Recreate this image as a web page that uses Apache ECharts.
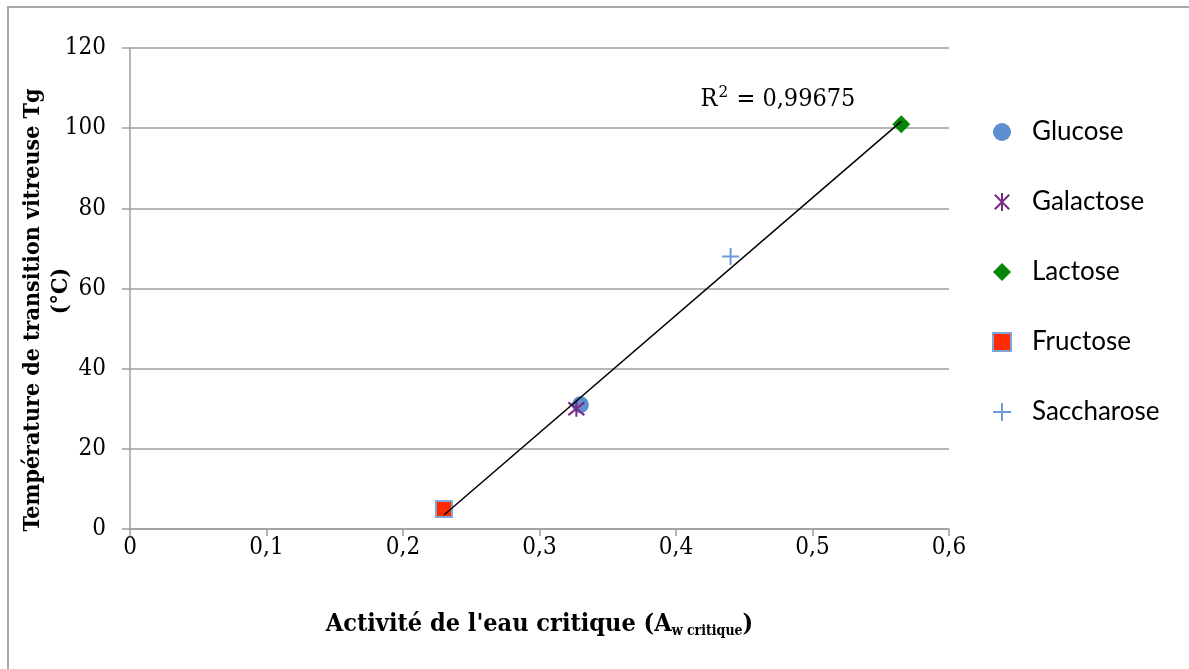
<!DOCTYPE html>
<html>
<head>
<meta charset="utf-8">
<script src="https://cdn.jsdelivr.net/npm/echarts@6/dist/echarts.min.js"></script>
<style>
  html, body { margin: 0; padding: 0; background: #fff; }
  #chart { width: 1189px; height: 669px; }
</style>
</head>
<body>
<div id="chart"></div>
<script>
// Critical water activity vs. glass transition temperature per sugar
const sugars = ['Glucose', 'Galactose', 'Lactose', 'Fructose', 'Saccharose'];
const awCritique = [0.330, 0.327, 0.565, 0.230, 0.440];
const tgValues = [31, 30, 101, 5, 68];

// Linear trend line end points
const trendAw = [0.23, 0.565];
const trendTg = [3.5, 101.7];

const xTicks = ['0', '0,1', '0,2', '0,3', '0,4', '0,5', '0,6'];
const r2Value = '0,99675';

const serif = '"DejaVu Serif Condensed", "DejaVu Serif", "Liberation Serif", serif';
const sans = 'Lato, "Open Sans", sans-serif';

const asteriskPath = 'path://M-1,-1 L1,1 M-1,1 L1,-1 M0,-1.25 L0,1.25';
const plusPath = 'path://M0,-1 L0,1 M-1,0 L1,0';

const markerStyles = [
  { symbol: 'circle', symbolSize: 17, itemStyle: { color: '#5b8fcf', opacity: 1 } },
  { symbol: asteriskPath, symbolSize: 16, itemStyle: { color: 'rgba(0,0,0,0)', borderColor: '#7a2a86', borderWidth: 2, opacity: 1 } },
  { symbol: 'diamond', symbolSize: 18, itemStyle: { color: '#078707', opacity: 1 } },
  { symbol: 'rect', symbolSize: 16, itemStyle: { color: '#ff2a00', borderColor: '#7ea6d8', borderWidth: 2, opacity: 1 } },
  { symbol: plusPath, symbolSize: 17, itemStyle: { color: 'rgba(0,0,0,0)', borderColor: '#6a9bd6', borderWidth: 2, opacity: 1 } }
];

const scatterSeries = sugars.map((name, i) => ({
  name: name,
  type: 'scatter',
  data: [[awCritique[i], tgValues[i]]],
  symbol: markerStyles[i].symbol,
  symbolSize: markerStyles[i].symbolSize,
  itemStyle: markerStyles[i].itemStyle,
  emphasis: { disabled: true },
  z: 3
}));

const chart = echarts.init(document.getElementById('chart'), null, { renderer: 'canvas' });

chart.setOption({
  animation: false,
  backgroundColor: '#ffffff',
  grid: { left: 130, right: 240, top: 48, bottom: 140 },
  graphic: [
    {
      type: 'rect',
      shape: { x: 8, y: 7, width: 1250, height: 720 },
      style: { fill: 'none', stroke: '#a8a8a8', lineWidth: 2 },
      z: -1
    },
    {
      type: 'text',
      x: 33, y: 310,
      rotation: Math.PI / 2,
      style: {
        text: 'Température de transition vitreuse Tg',
        font: 'bold 23px ' + serif,
        fill: '#000',
        textAlign: 'center',
        textVerticalAlign: 'middle'
      }
    },
    {
      type: 'text',
      x: 61, y: 291,
      rotation: Math.PI / 2,
      style: {
        text: '(°C)',
        font: 'bold 23px ' + serif,
        fill: '#000',
        textAlign: 'center',
        textVerticalAlign: 'middle'
      }
    },
    {
      type: 'text',
      x: 778, y: 99,
      style: {
        text: 'R{sup|2} = ' + r2Value,
        font: '25px ' + serif,
        fill: '#000',
        textAlign: 'center',
        textVerticalAlign: 'middle',
        rich: {
          sup: { font: '17px ' + serif, fill: '#000', padding: [0, 1, 12, 1] }
        }
      }
    }
  ],
  legend: {
    orient: 'vertical',
    left: 987,
    top: 111,
    itemWidth: 18,
    itemHeight: 18,
    itemGap: 38,
    data: sugars,
    textStyle: { fontFamily: sans, fontSize: 26, color: '#000', lineHeight: 32, padding: [0, 0, 0, 16] },
    selectedMode: false
  },
  xAxis: {
    type: 'value',
    min: 0,
    max: 0.6,
    interval: 0.1,
    name: "Activité de l'eau critique (A{sub|w critique})",
    nameLocation: 'middle',
    nameGap: 82,
    nameTextStyle: {
      fontFamily: serif,
      fontWeight: 'bold',
      fontSize: 25,
      color: '#000',
      rich: {
        sub: { fontFamily: serif, fontWeight: 'bold', fontSize: 14, color: '#000', padding: [13, 0, 0, 0] }
      }
    },
    axisLine: { show: true, lineStyle: { color: '#9e9e9e', width: 1.5 } },
    axisTick: { show: true, length: 7, lineStyle: { color: '#9e9e9e', width: 1.5 } },
    axisLabel: {
      margin: 7,
      fontFamily: serif,
      fontSize: 24,
      color: '#000',
      formatter: (v) => xTicks[Math.round(v * 10)]
    },
    splitLine: { show: false }
  },
  yAxis: {
    type: 'value',
    min: 0,
    max: 120,
    interval: 20,
    axisLine: { show: true, lineStyle: { color: '#9e9e9e', width: 1.5 } },
    axisTick: { show: true, length: 8, lineStyle: { color: '#9e9e9e', width: 1.5 } },
    axisLabel: { margin: 24, fontFamily: serif, fontSize: 24, color: '#000' },
    splitLine: { show: true, lineStyle: { color: '#9e9e9e', width: 1.5 } }
  },
  series: [
    {
      name: 'Tendance',
      type: 'line',
      data: trendAw.map((x, i) => [x, trendTg[i]]),
      symbol: 'none',
      lineStyle: { color: '#000', width: 1.5 },
      emphasis: { disabled: true },
      z: 4
    }
  ].concat(scatterSeries)
});
</script>
</body>
</html>
